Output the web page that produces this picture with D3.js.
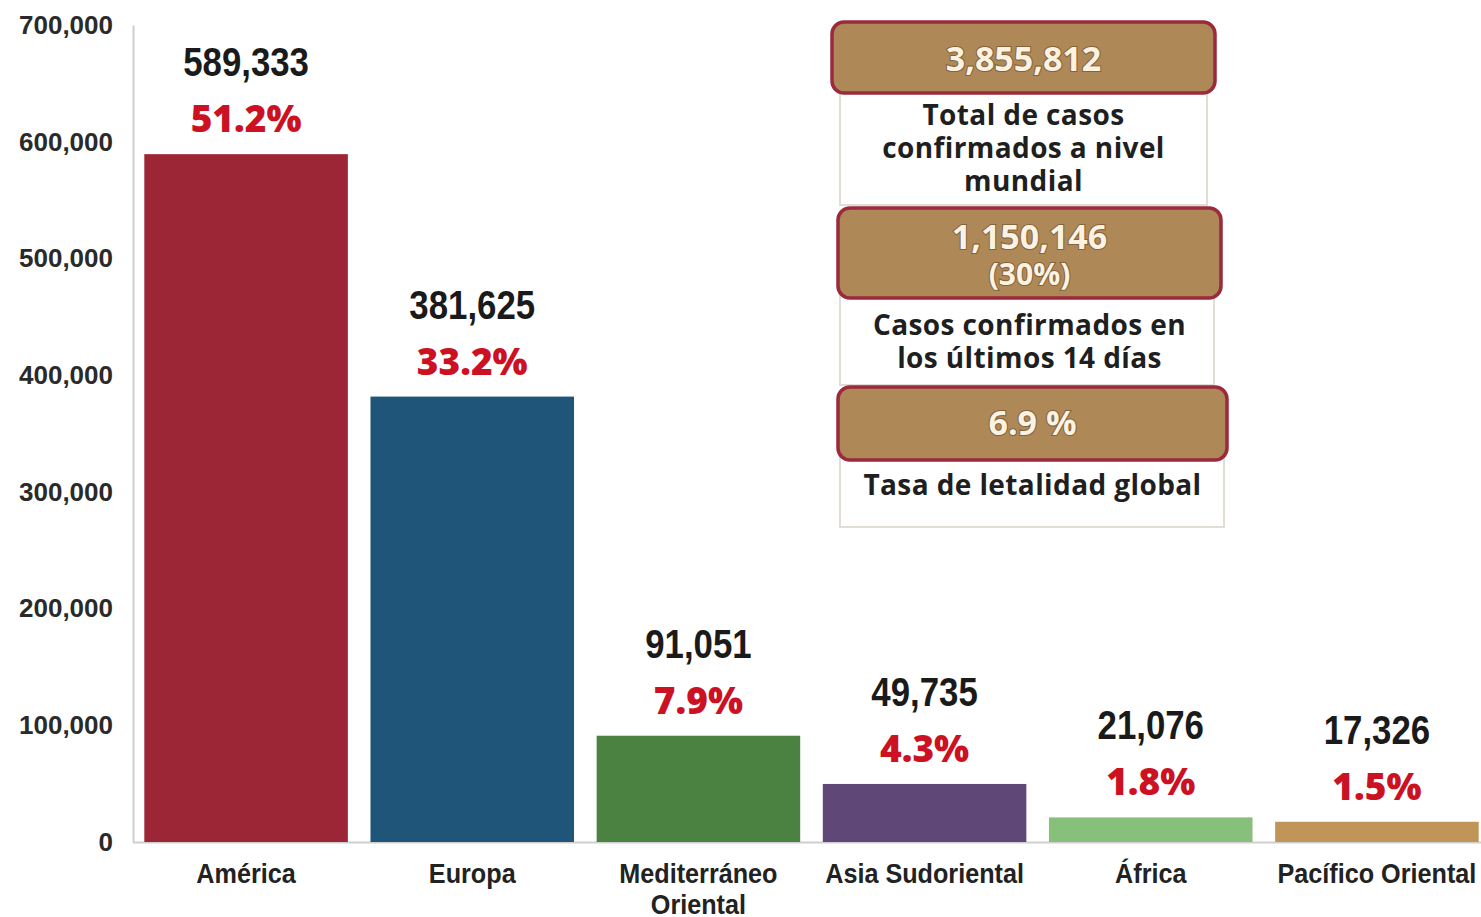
<!DOCTYPE html>
<html>
<head>
<meta charset="utf-8">
<script src="https://cdn.jsdelivr.net/npm/d3@7/dist/d3.min.js"></script>
<style>
  html, body { margin: 0; padding: 0; background: #ffffff; }
  svg { display: block; }
</style>
</head>
<body>
<svg id="chart" width="1481" height="917"></svg>
<script>
// ---- Data ----
const categories = ["América", "Europa", "Mediterráneo Oriental", "Asia Sudoriental", "África", "Pacífico Oriental"];
const categoryLines = [["América"], ["Europa"], ["Mediterráneo", "Oriental"], ["Asia Sudoriental"], ["África"], ["Pacífico Oriental"]];
const values = [589333, 381625, 91051, 49735, 21076, 17326];
const percents = ["51.2%", "33.2%", "7.9%", "4.3%", "1.8%", "1.5%"];
const barColors = ["#9c2536", "#1f5578", "#4b8141", "#5f4878", "#86c07b", "#c09558"];
const yTicks = [0, 100000, 200000, 300000, 400000, 500000, 600000, 700000];

const infoHeadlines = [["3,855,812"], ["1,150,146", "(30%)"], ["6.9 %"]];
const infoCaptions = [["Total de casos", "confirmados a nivel", "mundial"], ["Casos confirmados en", "los últimos 14 días"], ["Tasa de letalidad global"]];

// ---- Chart ----
const svg = d3.select("#chart");
const y = d3.scaleLinear().domain([0, 700000]).range([842, 25]);
const x = d3.scaleBand().domain(categories).range([133, 1490]).paddingInner(0.1).paddingOuter(0.05);

const narrow = "'Liberation Sans Narrow', 'Liberation Sans', Arial, sans-serif";
const wide = "'Open Sans', 'Noto Sans', sans-serif";

// baseline
svg.append("line")
  .attr("x1", 133).attr("x2", 1481)
  .attr("y1", y(0) + 0.5).attr("y2", y(0) + 0.5)
  .attr("stroke", "#cfcfcf").attr("stroke-width", 2);

// y axis
const yAxis = svg.append("g")
  .attr("transform", "translate(133,0)")
  .call(d3.axisLeft(y).tickValues(yTicks).tickFormat(d3.format(",")).tickSize(0).tickPadding(20));
yAxis.select(".domain").attr("stroke", "#cfcfcf").attr("stroke-width", 2);
yAxis.selectAll("text")
  .attr("font-family", narrow)
  .attr("font-weight", "bold")
  .attr("font-size", 26)
  .attr("fill", "#2a2a2a");

// bars
svg.append("g").selectAll("rect")
  .data(categories)
  .join("rect")
  .attr("x", d => x(d))
  .attr("width", x.bandwidth())
  .attr("y", (d, i) => y(values[i]))
  .attr("height", (d, i) => y(0) - y(values[i]))
  .attr("fill", (d, i) => barColors[i]);

const cx = d => x(d) + x.bandwidth() / 2;

// value labels (horizontally condensed)
svg.append("g").selectAll("text")
  .data(categories)
  .join("text")
  .attr("transform", (d, i) => `translate(${cx(d)},${y(values[i]) - 78}) scale(0.87,1)`)
  .attr("text-anchor", "middle")
  .attr("font-family", narrow)
  .attr("font-weight", "bold")
  .attr("font-size", 40)
  .attr("fill", "#1a1a1a")
  .text((d, i) => d3.format(",")(values[i]));

// percent labels
svg.append("g").selectAll("text")
  .data(categories)
  .join("text")
  .attr("x", cx)
  .attr("y", (d, i) => y(values[i]) - 22)
  .attr("text-anchor", "middle")
  .attr("font-family", wide)
  .attr("font-weight", 800)
  .attr("font-size", 37)
  .attr("fill", "#cc1122")
  .text((d, i) => percents[i]);

// category labels
const cat = svg.append("g").selectAll("text")
  .data(categories)
  .join("text")
  .attr("transform", d => `translate(${cx(d)},883) scale(0.9,1)`)
  .attr("text-anchor", "middle")
  .attr("font-family", narrow)
  .attr("font-weight", "bold")
  .attr("font-size", 28)
  .attr("fill", "#222");
cat.each(function(d, i) {
  const t = d3.select(this);
  categoryLines[i].forEach((line, j) => {
    t.append("tspan").attr("x", 0).attr("dy", j === 0 ? 0 : 31).text(line);
  });
});

// ---- Info boxes ----
const panels = [
  { x: 840, y: 60, w: 367, h: 145 },
  { x: 840, y: 250, w: 374, h: 135 },
  { x: 840, y: 420, w: 384, h: 107 }
];
const boxes = [
  { x: 832, y: 22, w: 383, h: 71 },
  { x: 838, y: 208, w: 383, h: 90 },
  { x: 838, y: 387, w: 389, h: 73 }
];
const headY = [71, 249, 435];
const capY = [125, 335, 495];

const info = svg.append("g");
panels.forEach(p => {
  info.append("rect").attr("x", p.x).attr("y", p.y).attr("width", p.w).attr("height", p.h)
    .attr("fill", "#fff").attr("stroke", "#e2dcd6").attr("stroke-width", 2);
});
boxes.forEach((b, i) => {
  info.append("rect").attr("x", b.x).attr("y", b.y).attr("width", b.w).attr("height", b.h)
    .attr("rx", 12).attr("ry", 12)
    .attr("fill", "#ae8957").attr("stroke", "#9a2a3c").attr("stroke-width", 3.5);
  const ht = info.append("text")
    .attr("x", b.x + b.w / 2).attr("y", headY[i])
    .attr("text-anchor", "middle")
    .attr("font-family", wide).attr("font-weight", "bold")
    .attr("fill", "#fbf2e2")
    .style("paint-order", "stroke")
    .attr("stroke", "rgba(60,40,20,0.4)").attr("stroke-width", 2.2);
  infoHeadlines[i].forEach((line, j) => {
    ht.append("tspan")
      .attr("x", b.x + b.w / 2).attr("dy", j === 0 ? 0 : 36)
      .attr("font-size", j === 0 ? 34 : 30)
      .text(line);
  });
  const ct = info.append("text")
    .attr("x", b.x + b.w / 2).attr("y", capY[i])
    .attr("text-anchor", "middle")
    .attr("font-family", wide).attr("font-weight", "bold")
    .attr("font-size", 28)
    .attr("letter-spacing", 0.4)
    .attr("fill", "#1f1f1f");
  infoCaptions[i].forEach((line, j) => {
    ct.append("tspan").attr("x", b.x + b.w / 2).attr("dy", j === 0 ? 0 : 33).text(line);
  });
});
</script>
</body>
</html>
